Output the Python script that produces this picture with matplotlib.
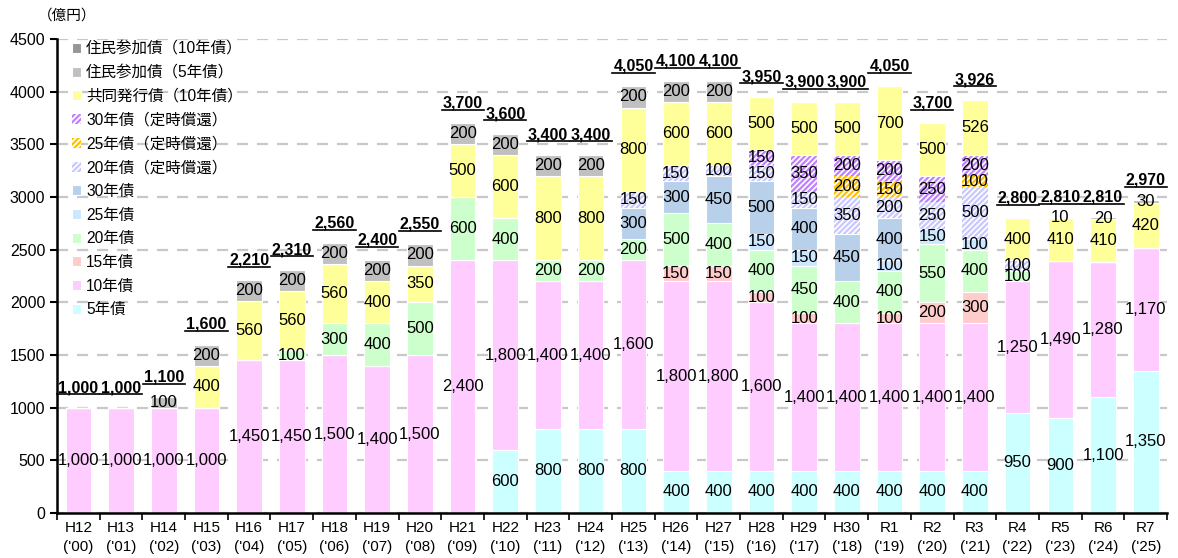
import numpy as np
import matplotlib
matplotlib.use("Agg")
import matplotlib.pyplot as plt
from matplotlib.lines import Line2D

plt.rcParams['font.family'] = ['Liberation Sans', 'Noto Sans CJK JP']
plt.rcParams['hatch.linewidth'] = 1.6

# categories
years = ["H12\n('00)", "H13\n('01)", "H14\n('02)", "H15\n('03)", "H16\n('04)",
         "H17\n('05)", "H18\n('06)", "H19\n('07)", "H20\n('08)", "H21\n('09)",
         "H22\n('10)", "H23\n('11)", "H24\n('12)", "H25\n('13)", "H26\n('14)",
         "H27\n('15)", "H28\n('16)", "H29\n('17)", "H30\n('18)", "R1\n('19)",
         "R2\n('20)", "R3\n('21)", "R4\n('22)", "R5\n('23)", "R6\n('24)", "R7\n('25)"]

# series (億円), bottom to top
y5 = [0, 0, 0, 0, 0, 0, 0, 0, 0, 0, 600, 800, 800, 800, 400, 400, 400, 400, 400, 400, 400, 400, 950, 900, 1100, 1350]
y10 = [1000, 1000, 1000, 1000, 1450, 1450, 1500, 1400, 1500, 2400, 1800, 1400, 1400, 1600, 1800, 1800, 1600, 1400, 1400, 1400, 1400, 1400, 1250, 1490, 1280, 1170]
y15 = [0, 0, 0, 0, 0, 0, 0, 0, 0, 0, 0, 0, 0, 0, 150, 150, 100, 100, 0, 100, 200, 300, 0, 0, 0, 0]
y20 = [0, 0, 0, 0, 0, 100, 300, 400, 500, 600, 400, 200, 200, 200, 500, 400, 400, 450, 400, 400, 550, 400, 100, 0, 0, 0]
y25 = [0, 0, 0, 0, 0, 0, 0, 0, 0, 0, 0, 0, 0, 0, 0, 0, 150, 150, 0, 100, 150, 100, 0, 0, 0, 0]
y30 = [0, 0, 0, 0, 0, 0, 0, 0, 0, 0, 0, 0, 0, 300, 300, 450, 500, 400, 450, 400, 0, 0, 0, 0, 0, 0]
t20 = [0, 0, 0, 0, 0, 0, 0, 0, 0, 0, 0, 0, 0, 150, 150, 100, 150, 150, 350, 200, 250, 500, 100, 0, 0, 0]
t25 = [0, 0, 0, 0, 0, 0, 0, 0, 0, 0, 0, 0, 0, 0, 0, 0, 0, 0, 200, 150, 0, 100, 0, 0, 0, 0]
t30 = [0, 0, 0, 0, 0, 0, 0, 0, 0, 0, 0, 0, 0, 0, 0, 0, 150, 350, 200, 200, 250, 200, 0, 0, 0, 0]
joint = [0, 0, 0, 400, 560, 560, 560, 400, 350, 500, 600, 800, 800, 800, 600, 600, 500, 500, 500, 700, 500, 526, 400, 410, 410, 420]
res5 = [0, 0, 100, 200, 200, 200, 200, 200, 200, 200, 200, 200, 200, 200, 200, 200, 0, 0, 0, 0, 0, 0, 0, 10, 20, 30]
res10 = [0] * 26

series = [
    ("5年債", y5, "#CCFFFF", None),
    ("10年債", y10, "#FFCCFF", None),
    ("15年債", y15, "#FFCCCC", None),
    ("20年債", y20, "#CCFFCC", None),
    ("25年債", y25, "#CCE8FF", None),
    ("30年債", y30, "#B8D0EA", None),
    ("20年債（定時償還）", t20, "#C8C8FF", "//////"),
    ("25年債（定時償還）", t25, "#FFC000", "//////"),
    ("30年債（定時償還）", t30, "#C080FF", "//////"),
    ("共同発行債（10年債）", joint, "#FFFF99", None),
    ("住民参加債（5年債）", res5, "#C0C0C0", None),
    ("住民参加債（10年債）", res10, "#969696", None),
]

fig = plt.figure(figsize=(11.78, 5.58), dpi=100)
ax = fig.add_axes([0.0484, 0.0806, 0.9423, 0.8494])

x = np.arange(len(years))
width = 0.6
bottom = np.zeros(len(years))
handles = []
for name, vals, color, hatch in series:
    vals = np.array(vals, dtype=float)
    if hatch:
        bars = ax.bar(x, vals, width, bottom=bottom, facecolor="white",
                      edgecolor=color, hatch=hatch, linewidth=0, label=name)
    else:
        bars = ax.bar(x, vals, width, bottom=bottom, color=color,
                      edgecolor="white", linewidth=0.8, label=name)
    handles.append(bars)
    for xi, v, b in zip(x, vals, bottom):
        if v > 0:
            ax.text(xi, b + v / 2, f"{int(v):,}", ha="center", va="center",
                    fontsize=12, color="black")
    bottom += vals

totals = bottom.copy()
tot_texts = []
for xi, t in zip(x, totals):
    tt = ax.text(xi, t + 190, f"{int(t):,}", ha="center", va="center",
                 fontsize=11.5, fontweight="bold")
    tot_texts.append(tt)

ax.set_xlim(-0.5, len(years) - 0.5)
ax.set_ylim(0, 4500)
ax.set_yticks(np.arange(0, 4501, 500))
ax.tick_params(axis="y", labelsize=11.5, length=5, width=1.5, direction="out")
ax.set_xticks(x)
ax.set_xticklabels(years, fontsize=11, linespacing=1.45)
ax.set_xticks(np.arange(-0.5, len(years), 1), minor=True)
ax.tick_params(axis="x", which="major", length=0, pad=6)
ax.tick_params(axis="x", which="minor", length=5, width=1.2, direction="out")

ax.set_axisbelow(True)
ax.yaxis.grid(True, color="#C8C8C8", linestyle=(0, (5, 4)), linewidth=1.6)
for s in ["top", "right"]:
    ax.spines[s].set_visible(False)
ax.spines["left"].set_linewidth(1.8)
ax.spines["bottom"].set_linewidth(1.8)

fig.text(0.032, 0.972, "（億円）", fontsize=10.5, ha="left", va="center")

leg = ax.legend(handles[::-1], [s[0] for s in series][::-1], loc="upper left",
                bbox_to_anchor=(0.008, 1.008), frameon=False, fontsize=11.2,
                handlelength=0.6, handleheight=0.6, handletextpad=0.3,
                labelspacing=0.56, borderaxespad=0)

# underline the totals
fig.canvas.draw()
renderer = fig.canvas.get_renderer()
inv = fig.transFigure.inverted()
for tt in tot_texts:
    bb = tt.get_window_extent(renderer)
    (x0, y0), (x1, _) = inv.transform([(bb.x0 - 1, bb.y0 + 1), (bb.x1 + 1, bb.y0 + 1)])
    fig.add_artist(Line2D([x0, x1], [y0, y0], transform=fig.transFigure,
                          color="black", linewidth=1.2))

fig.savefig("out.png", dpi=100)
